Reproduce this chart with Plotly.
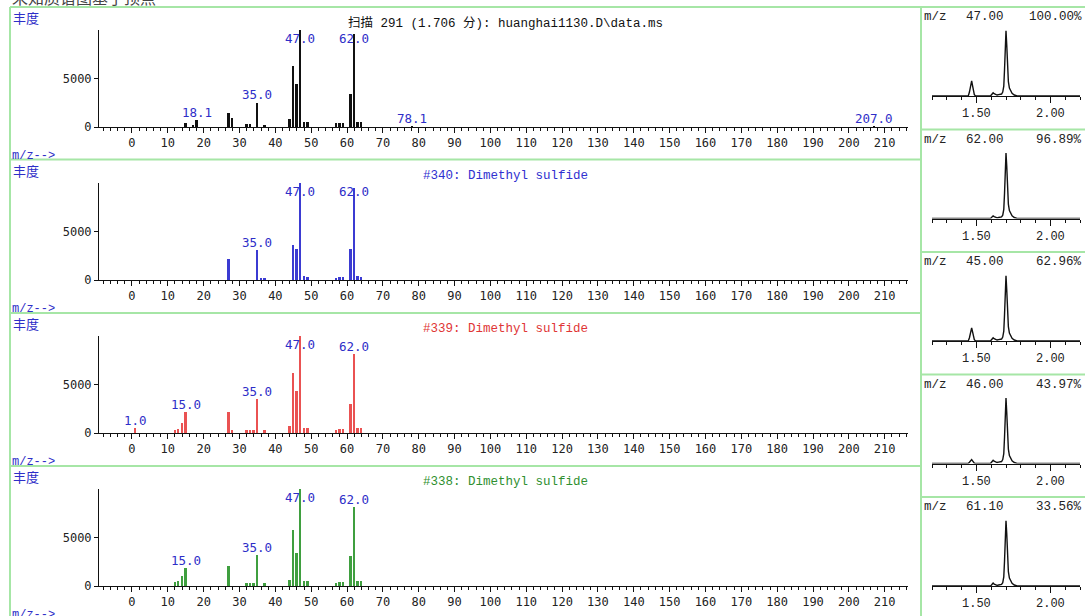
import plotly.graph_objects as go

W, H = 1085, 616

# ---------------- data ----------------
scan_mz = [15, 17, 18.1, 27, 28, 32, 33, 35, 37, 44, 45, 46, 47, 48, 49, 57, 58, 59, 61, 62, 63, 64, 78.1, 207.0]
scan_ab = [440, 220, 740, 1470, 900, 300, 300, 2520, 250, 800, 6290, 4430, 9990, 520, 520, 440, 440, 440, 3400, 9630, 480, 480, 60, 60]
scan_labels = [18.1, 35.0, 47.0, 62.0, 78.1, 207.0]

lib340_mz = [27, 35, 36, 37, 45, 46, 47, 48, 49, 57, 58, 59, 61, 62, 63, 64]
lib340_ab = [2140, 3130, 150, 200, 3570, 3200, 9999, 400, 300, 200, 270, 270, 3160, 9500, 440, 340]
lib340_labels = [35.0, 47.0, 62.0]

lib339_mz = [1, 12, 13, 14, 15, 27, 28, 32, 33, 34, 35, 37, 44, 45, 46, 47, 48, 49, 57, 58, 59, 61, 62, 63, 64]
lib339_ab = [500, 270, 400, 1080, 2200, 2160, 270, 270, 270, 270, 3480, 270, 680, 6180, 4290, 9999, 510, 510, 340, 440, 440, 3040, 8180, 470, 470]
lib339_labels = [1.0, 15.0, 35.0, 47.0, 62.0]

lib338_mz = [12, 13, 14, 15, 27, 32, 33, 34, 35, 37, 44, 45, 46, 47, 48, 49, 57, 58, 59, 61, 62, 63, 64]
lib338_ab = [370, 530, 1030, 1870, 2030, 270, 270, 270, 3230, 270, 670, 5770, 3370, 9999, 470, 470, 330, 400, 400, 3070, 8100, 470, 470]
lib338_labels = [15.0, 35.0, 47.0, 62.0]

mz_ticks = list(range(0, 211, 10))
ab_ticks = [0, 5000]

eic_time = [1.200, 1.300, 1.400, 1.445, 1.453, 1.459, 1.464, 1.468, 1.473, 1.479, 1.486, 1.495,
            1.530, 1.570, 1.595, 1.602, 1.608, 1.613, 1.620, 1.630, 1.640, 1.650, 1.660, 1.670,
            1.678, 1.685, 1.690, 1.695, 1.700, 1.705, 1.710, 1.716, 1.723, 1.731, 1.741, 1.756,
            1.775, 1.850, 2.000, 2.200]
eic_47 = [0, 0, 0, 0, 0.06, 0.16, 0.22, 0.23, 0.17, 0.08, 0.02, 0,
          0, 0, 0, 0.02, 0.045, 0.05, 0.035, 0.02, 0.015, 0.02, 0.025, 0.03,
          0.06, 0.15, 0.4, 0.8, 1.0, 0.78, 0.45, 0.22, 0.12, 0.07, 0.04, 0.015, 0, 0, 0, 0]
eic_62 = [0, 0, 0, 0, 0, 0, 0, 0, 0, 0, 0, 0,
          0, 0, 0, 0.015, 0.035, 0.04, 0.03, 0.015, 0.01, 0.015, 0.02, 0.025,
          0.05, 0.14, 0.38, 0.8, 1.0, 0.8, 0.45, 0.22, 0.12, 0.07, 0.04, 0.015, 0, 0, 0, 0]
eic_45 = [0, 0, 0, 0, 0.05, 0.14, 0.19, 0.2, 0.15, 0.07, 0.02, 0,
          0, 0, 0, 0.02, 0.045, 0.05, 0.035, 0.02, 0.015, 0.02, 0.025, 0.03,
          0.06, 0.15, 0.4, 0.8, 1.0, 0.78, 0.45, 0.22, 0.12, 0.07, 0.04, 0.015, 0, 0, 0, 0]
eic_46 = [0, 0, 0, 0, 0.02, 0.045, 0.06, 0.06, 0.045, 0.02, 0.005, 0,
          0, 0, 0, 0.02, 0.045, 0.05, 0.035, 0.02, 0.015, 0.02, 0.025, 0.03,
          0.06, 0.15, 0.4, 0.8, 1.0, 0.78, 0.45, 0.22, 0.12, 0.07, 0.04, 0.015, 0, 0, 0, 0]
eic_61 = [0, 0, 0, 0, 0, 0, 0, 0, 0, 0, 0, 0,
          0, 0, 0, 0.015, 0.035, 0.045, 0.03, 0.015, 0.01, 0.015, 0.02, 0.025,
          0.05, 0.14, 0.38, 0.8, 1.0, 0.8, 0.45, 0.22, 0.12, 0.07, 0.04, 0.015, 0, 0, 0, 0]
eic_mz = ["47.00", "62.00", "45.00", "46.00", "61.10"]
eic_pct = ["100.00%", "96.89%", "62.96%", "43.97%", "33.56%"]
eic_ticks = [1.5, 2.0]
eic_ticktext = ["1.50", "2.00"]

# ---------------- helpers ----------------
def px(x):
    return x / W


def py(y):
    return 1 - y / H


GREEN = "#a6e6a6"
BLUE_TXT = "#2e2ec8"
MONO = "Liberation Mono, DejaVu Sans Mono, monospace"
SANSMONO = "DejaVu Sans Mono, monospace"
CJK = "Noto Sans CJK SC, sans-serif"

fig = go.Figure()
layout = dict(width=W, height=H, margin=dict(l=0, r=0, t=0, b=0, autoexpand=False),
              paper_bgcolor="white", plot_bgcolor="white", showlegend=False,
              bargap=0)
annotations = []
shapes = []

panels = [
    (scan_mz, scan_ab, scan_labels, "#111111", "扫描 291 (1.706 分): huanghai1130.D\\data.ms", "#111111"),
    (lib340_mz, lib340_ab, lib340_labels, "#3b3bd2", "#340: Dimethyl sulfide", "#3030d0"),
    (lib339_mz, lib339_ab, lib339_labels, "#ea5252", "#339: Dimethyl sulfide", "#e03535"),
    (lib338_mz, lib338_ab, lib338_labels, "#3f9f3f", "#338: Dimethyl sulfide", "#2f8f2f"),
]

panel_tops = [7, 160, 313, 466]
for i, (mz, ab, labs, col, title, tcol) in enumerate(panels):
    n = i + 1
    xa = "x" if n == 1 else f"x{n}"
    ya = "y" if n == 1 else f"y{n}"
    top = panel_tops[i]
    base = top + 120
    ytop = base - 97
    fig.add_trace(go.Bar(x=mz, y=ab, width=0.5, marker=dict(color=col, line=dict(width=0)),
                         xaxis=xa, yaxis=ya, hoverinfo="skip"))
    layout["xaxis" if n == 1 else f"xaxis{n}"] = dict(
        domain=[px(99), px(908)], range=[-9.2, 216.5], anchor=ya, automargin=False,
        tickmode="array", tickvals=mz_ticks, ticks="outside", ticklen=5, tickwidth=1,
        tickcolor="#111", showline=True, linecolor="#111", linewidth=1,
        showgrid=False, zeroline=False,
        minor=dict(dtick=2, tick0=0, ticks="outside", ticklen=3, tickcolor="#111", showgrid=False),
        tickfont=dict(family=SANSMONO, size=12, color="#222"))
    layout["yaxis" if n == 1 else f"yaxis{n}"] = dict(
        domain=[py(base), py(ytop)], range=[0, 10000], anchor=xa, automargin=False,
        tickmode="array", tickvals=ab_ticks, ticks="outside", ticklen=4,
        tickcolor="#111", showline=True, linecolor="#111", linewidth=1,
        showgrid=False, zeroline=False,
        tickfont=dict(family=SANSMONO, size=12, color="#222"))
    lookup = dict(zip(mz, ab))
    for m in labs:
        v = lookup.get(m, 0)
        annotations.append(dict(x=m, y=min(v + 780, 9150), xref=xa, yref=ya, text=f"{m:.1f}",
                                showarrow=False, xanchor="center", yanchor="middle",
                                font=dict(family=SANSMONO, size=12.5, color=BLUE_TXT)))
    # title
    annotations.append(dict(x=px(505), y=py(top + 16), xref="paper", yref="paper", text=title,
                            showarrow=False, xanchor="center", yanchor="middle",
                            font=dict(family=MONO + ", Noto Sans CJK SC", size=12.5, color=tcol)))
    # 丰度 and m/z-->
    annotations.append(dict(x=px(11), y=py(top + 10), xref="paper", yref="paper", text="丰度",
                            showarrow=False, xanchor="left", yanchor="middle",
                            font=dict(family=CJK, size=13, color=BLUE_TXT)))
    annotations.append(dict(x=px(10), y=py(top + 149), xref="paper", yref="paper", text="m/z-->",
                            showarrow=False, xanchor="left", yanchor="middle",
                            font=dict(family=MONO, size=12, color=BLUE_TXT)))

# ---------------- right-hand ion chromatograms ----------------
eics = [eic_47, eic_62, eic_45, eic_46, eic_61]
r_tops = [7, 129.5, 252, 374.5, 497]
for j, series in enumerate(eics):
    n = 5 + j
    xa, ya = f"x{n}", f"y{n}"
    top = r_tops[j]
    base = top + 89
    peak = top + 23.5
    fig.add_trace(go.Scatter(x=eic_time, y=series, mode="lines",
                             line=dict(color="#111", width=1.4), xaxis=xa, yaxis=ya,
                             hoverinfo="skip"))
    layout[f"xaxis{n}"] = dict(
        domain=[px(932), px(1080)], range=[1.2, 2.2], anchor=ya, automargin=False,
        tickmode="array", tickvals=eic_ticks, ticktext=eic_ticktext,
        ticks="outside", ticklen=6, tickcolor="#111", showline=True, linecolor="#111",
        linewidth=1, showgrid=False, zeroline=False,
        minor=dict(dtick=0.1, tick0=1.2, ticks="outside", ticklen=3, tickcolor="#111", showgrid=False),
        tickfont=dict(family=MONO, size=12, color="#222"))
    layout[f"yaxis{n}"] = dict(domain=[py(base), py(peak)], range=[0, 1.0], anchor=xa,
                               automargin=False, visible=False, showgrid=False, zeroline=False)
    hy = py(top + 10)
    annotations.append(dict(x=px(922), y=hy, xref="paper", yref="paper", text="m/z",
                            showarrow=False, xanchor="left", yanchor="middle",
                            font=dict(family=MONO, size=12.5, color="#222")))
    annotations.append(dict(x=px(1006), y=hy, xref="paper", yref="paper", text=eic_mz[j],
                            showarrow=False, xanchor="right", yanchor="middle",
                            font=dict(family=MONO, size=12.5, color="#222")))
    annotations.append(dict(x=px(1084), y=hy, xref="paper", yref="paper", text=eic_pct[j],
                            showarrow=False, xanchor="right", yanchor="middle",
                            font=dict(family=MONO, size=12.5, color="#222")))

# ---------------- frame lines ----------------
def hline(x0, x1, y):
    shapes.append(dict(type="line", xref="paper", yref="paper", x0=px(x0), x1=px(x1),
                       y0=py(y), y1=py(y), line=dict(color=GREEN, width=2)))


def vline(x, y0, y1):
    shapes.append(dict(type="line", xref="paper", yref="paper", x0=px(x), x1=px(x),
                       y0=py(y0), y1=py(y1), line=dict(color=GREEN, width=2)))


hline(10, 1085, 7)
for y in [159.5, 313, 466]:
    hline(10, 921, y)
for y in [129.5, 252, 374.5, 497]:
    hline(921, 1085, y)
vline(10, 7, 616)
vline(921, 7, 616)

# cut-off heading at very top
annotations.append(dict(x=px(10), y=py(-3), xref="paper", yref="paper", text="未知质谱图基于顶点",
                        showarrow=False, xanchor="left", yanchor="middle",
                        font=dict(family=CJK, size=16, color="#444")))

layout["annotations"] = annotations
layout["shapes"] = shapes
fig.update_layout(**layout)
fig.write_html("out.html", config={"displayModeBar": False},
               post_script="document.body.style.margin='0';document.body.style.overflow='hidden';")
